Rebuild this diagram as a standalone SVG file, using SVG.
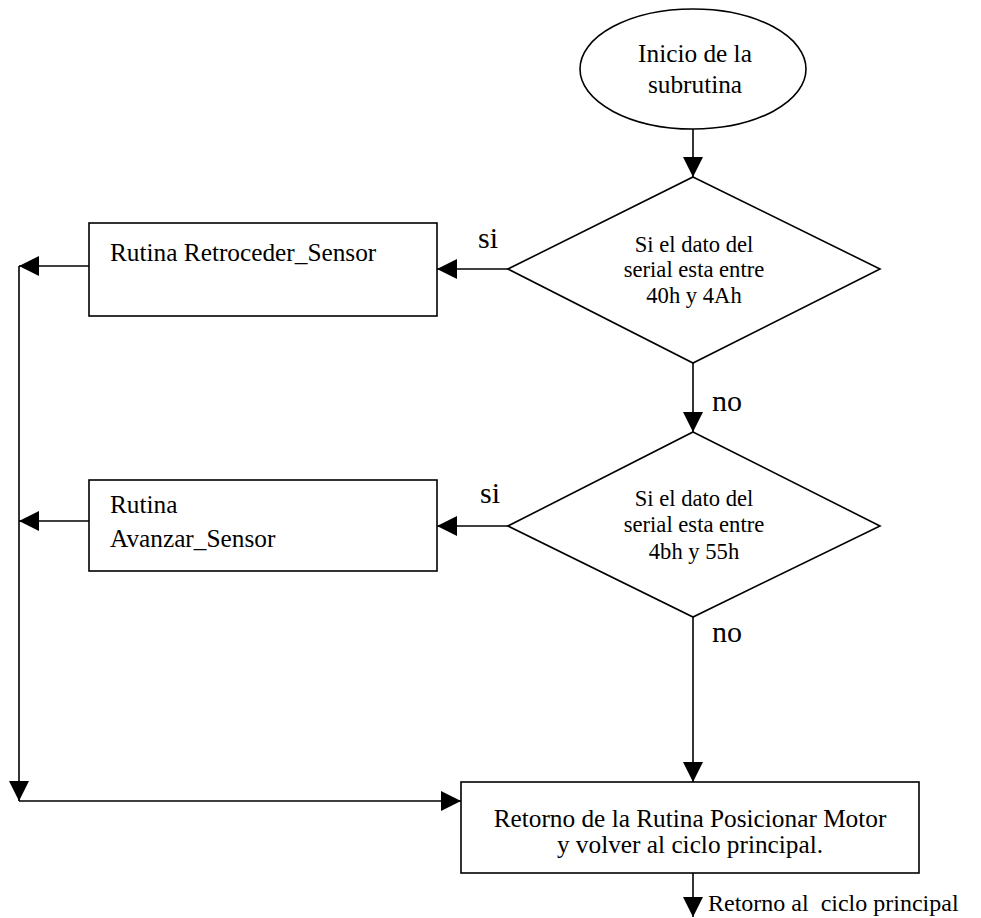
<svg xmlns="http://www.w3.org/2000/svg" width="981" height="918" viewBox="0 0 981 918">
  <style>
    .shape { fill: #fff; stroke: #000; stroke-width: 1.6; }
    .wire { fill: none; stroke: #000; stroke-width: 1.6; }
    text { font-family: "Liberation Serif", "Times New Roman", serif; fill: #000; }
    .box { font-size: 25.3px; }
    .dec { font-size: 22.6px; }
    .lbl { font-size: 30px; }
    .note { font-size: 24px; }
    .mid { text-anchor: middle; }
  </style>
  <defs>
    <marker id="arrow" viewBox="0 0 20 20" refX="20" refY="10" markerWidth="20" markerHeight="20" markerUnits="userSpaceOnUse" orient="auto">
      <path d="M0,0 L20,10 L0,20 z" fill="#000"/>
    </marker>
  </defs>

  <rect width="981" height="918" fill="#fff"/>

  <!-- connectors -->
  <g id="connectors" class="wire" marker-end="url(#arrow)">
    <path d="M693,129 V177"/>
    <path d="M508,269 H437"/>
    <path d="M89,266 H19"/>
    <path d="M693,363 V432"/>
    <path d="M508,526 H437"/>
    <path d="M89,521 H19"/>
    <path d="M19,266 V801"/>
    <path d="M19,801 H461"/>
    <path d="M693,617 V782"/>
    <path d="M693,873 V917"/>
  </g>

  <!-- start terminal -->
  <g id="inicio">
    <ellipse class="shape" cx="693" cy="69" rx="113" ry="60"/>
    <text class="box mid" x="695" y="62">Inicio de la</text>
    <text class="box mid" x="695" y="93">subrutina</text>
  </g>

  <!-- first decision -->
  <g id="decision1">
    <polygon class="shape" points="693,177 880,269 693,363 508,269"/>
    <text class="dec mid" x="694" y="252">Si el dato del</text>
    <text class="dec mid" x="694" y="277">serial esta entre</text>
    <text class="dec mid" x="694" y="303">40h y 4Ah</text>
  </g>

  <!-- second decision -->
  <g id="decision2">
    <polygon class="shape" points="693,432 880,526 693,617 508,526"/>
    <text class="dec mid" x="694" y="506">Si el dato del</text>
    <text class="dec mid" x="694" y="532">serial esta entre</text>
    <text class="dec mid" x="694" y="559">4bh y 55h</text>
  </g>

  <!-- routine boxes -->
  <g id="retroceder">
    <rect class="shape" x="89" y="223" width="348" height="93"/>
    <text class="box" x="110" y="261">Rutina Retroceder_Sensor</text>
  </g>

  <g id="avanzar">
    <rect class="shape" x="89" y="480" width="348" height="91"/>
    <text class="box" x="110" y="513">Rutina</text>
    <text class="box" x="110" y="547">Avanzar_Sensor</text>
  </g>

  <g id="retorno">
    <rect class="shape" x="461" y="782" width="458" height="91"/>
    <text class="box mid" x="690" y="827">Retorno de la Rutina Posicionar Motor</text>
    <text class="box mid" x="690" y="853">y volver al ciclo principal.</text>
  </g>

  <!-- branch labels -->
  <g id="labels">
    <text class="lbl" x="478" y="248">si</text>
    <text class="lbl" x="480" y="503">si</text>
    <text class="lbl" x="712" y="411">no</text>
    <text class="lbl" x="712" y="642">no</text>
    <text class="note" x="708" y="911" xml:space="preserve">Retorno al  ciclo principal</text>
  </g>
</svg>
